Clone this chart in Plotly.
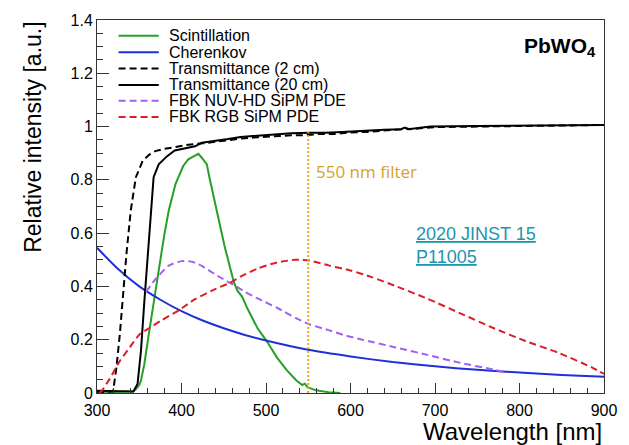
import plotly.graph_objects as go

# ---------------- data ----------------
scint_wl = [300, 320, 340, 343, 346.5, 350, 352, 356, 360, 364, 368, 372, 376, 380, 385,
            393, 402, 408, 414, 418, 420, 424, 430, 433, 439, 445, 451, 457, 462, 466,
            472, 478, 490, 501, 513, 525, 536, 543, 546, 549, 559, 574, 588]
scint = [0.005, 0.004, 0.006, 0.006, 0.016, 0.03, 0.046, 0.108, 0.194, 0.28, 0.354, 0.44,
         0.52, 0.6, 0.686, 0.785, 0.852, 0.877, 0.889, 0.895, 0.898, 0.883, 0.858, 0.81,
         0.723, 0.637, 0.551, 0.477, 0.416, 0.385, 0.36, 0.317, 0.243, 0.194, 0.133, 0.084,
         0.047, 0.03, 0.035, 0.022, 0.01, 0.003, 0.0]

cher_wl = [300, 325, 350, 375, 400, 425, 450, 475, 500, 550, 600, 650, 700, 750, 800, 850, 900]
cher = [0.545, 0.465, 0.40, 0.35, 0.307, 0.272, 0.243, 0.218, 0.197, 0.162, 0.137, 0.116,
        0.100, 0.087, 0.077, 0.068, 0.061]

t2_wl = [300, 310, 319, 323, 327, 331, 335, 340, 346, 354, 362, 369, 380, 393, 408, 425,
         450, 470, 490, 513, 530, 550, 560, 580, 600, 620, 640, 660, 664, 670, 700, 750,
         800, 850, 900]
t2 = [0.005, 0.004, 0.006, 0.096, 0.22, 0.38, 0.527, 0.686, 0.81, 0.871, 0.895, 0.908,
      0.917, 0.923, 0.932, 0.937, 0.948, 0.955, 0.96, 0.965, 0.967, 0.968, 0.972, 0.972,
      0.978, 0.98, 0.985, 0.99, 0.996, 0.99, 0.998, 1.0, 1.003, 1.004, 1.006]

t20_wl = [300, 320, 343, 348, 352, 356, 360, 364, 367, 373, 383, 392, 400, 416, 424, 440,
          455, 470, 490, 513, 530, 551, 570, 590, 617, 640, 660, 664, 668, 695, 750, 800,
          850, 900]
t20 = [0.008, 0.006, 0.006, 0.034, 0.157, 0.342, 0.527, 0.686, 0.81, 0.858, 0.889, 0.91,
       0.916, 0.926, 0.939, 0.945, 0.953, 0.961, 0.966, 0.973, 0.975, 0.977, 0.977, 0.98,
       0.985, 0.988, 0.99, 0.996, 0.99, 1.0, 1.002, 1.003, 1.005, 1.006]

nuv_wl = [358, 370, 385, 400, 410, 416, 424, 435, 449, 462, 475, 490, 513, 536, 552, 575,
          595, 614, 652, 691, 730, 769, 784]
nuv = [0.38, 0.43, 0.478, 0.495, 0.494, 0.489, 0.477, 0.455, 0.428, 0.405, 0.38, 0.355,
       0.32, 0.28, 0.257, 0.235, 0.215, 0.2, 0.172, 0.143, 0.113, 0.088, 0.077]

rgb_wl = [303, 306, 315, 327, 339, 350, 362, 377, 397, 416, 440, 457, 470, 490, 513, 535,
          552, 575, 600, 625, 652, 691, 730, 769, 807, 846, 885, 900]
rgb = [0.0, 0.01, 0.053, 0.12, 0.172, 0.219, 0.244, 0.274, 0.311, 0.352, 0.39, 0.413,
       0.437, 0.467, 0.49, 0.5, 0.497, 0.478, 0.46, 0.435, 0.403, 0.354, 0.299, 0.244,
       0.195, 0.151, 0.097, 0.072]

filter_wl = [550, 550]
filter_y = [0.0, 0.98]

series_names = ["Scintillation", "Cherenkov", "Transmittance (2 cm)", "Transmittance (20 cm)",
                "FBK NUV-HD SiPM PDE", "FBK RGB SiPM PDE"]
x_ticks = [300, 400, 500, 600, 700, 800, 900]
y_ticks = [0, 0.2, 0.4, 0.6, 0.8, 1.0, 1.2, 1.4]

# ---------------- styles ----------------
FONT = "Liberation Sans, Arial, sans-serif"
GREEN = "#26a026"
BLUE = "#1f30d6"
PURPLE = "#a260f2"
RED = "#dc1e28"
BLACK = "#000000"
GOLD = "#e0a92a"
DASH = "7px,4px"

styles = [
    dict(color=GREEN, width=2, dash="solid"),
    dict(color=BLUE, width=2, dash="solid"),
    dict(color=BLACK, width=2, dash=DASH),
    dict(color=BLACK, width=2, dash="solid"),
    dict(color=PURPLE, width=2, dash=DASH),
    dict(color=RED, width=2, dash=DASH),
]
xs = [scint_wl, cher_wl, t2_wl, t20_wl, nuv_wl, rgb_wl]
ys = [scint, cher, t2, t20, nuv, rgb]
shapes_line = ["linear", "spline", "linear", "linear", "spline", "spline"]

fig = go.Figure()
for name, x, y, st, sh in zip(series_names, xs, ys, styles, shapes_line):
    fig.add_trace(go.Scatter(x=x, y=y, mode="lines", name=name, showlegend=False,
                             line=dict(color=st["color"], width=st["width"], dash=st["dash"],
                                       shape=sh, smoothing=0.6)))

fig.add_trace(go.Scatter(x=filter_wl, y=filter_y, mode="lines", name="550 nm filter",
                         showlegend=False, line=dict(color=GOLD, width=2, dash="2px,2px")))

# ---------------- manual legend ----------------
L, T = 97, 14
W, H = 517, 379


def px_x(p):
    return (p - L) / W


def px_y(p):
    return (T + H - p) / H


row_px = [30, 46.7, 63.3, 80, 96, 112.5]
shapes = []
annotations = []
for name, st, rp in zip(series_names, styles, row_px):
    shapes.append(dict(type="line", xref="paper", yref="paper",
                       x0=px_x(119), x1=px_x(160), y0=px_y(rp), y1=px_y(rp),
                       line=dict(color=st["color"], width=2, dash=st["dash"])))
    annotations.append(dict(xref="paper", yref="paper", x=px_x(168), y=px_y(rp),
                            xanchor="left", yanchor="middle", text=name, showarrow=False,
                            font=dict(family=FONT, size=16, color="#000")))

annotations += [
    dict(xref="paper", yref="paper", x=px_x(608), y=px_y(41), xanchor="right",
         yanchor="middle", text="<b>PbWO<sub>4</sub></b>", showarrow=False,
         font=dict(family=FONT, size=21, color="#000")),
    dict(xref="paper", yref="paper", x=px_x(318), y=px_y(168), xanchor="left",
         yanchor="middle", text="550 nm filter", showarrow=False,
         font=dict(family="Open Sans, sans-serif", size=17, color="#d6a326")),
    dict(xref="paper", yref="paper", x=px_x(420), y=px_y(231), xanchor="left",
         yanchor="middle", text="<u>2020 JINST 15</u>", showarrow=False,
         font=dict(family=FONT, size=18, color="#1b96b0")),
    dict(xref="paper", yref="paper", x=px_x(420), y=px_y(255), xanchor="left",
         yanchor="middle", text="<u>P11005</u>", showarrow=False,
         font=dict(family=FONT, size=18, color="#1b96b0")),
    dict(xref="paper", yref="paper", x=1.0, y=px_y(432), xanchor="right",
         yanchor="middle", text="Wavelength [nm]", showarrow=False,
         font=dict(family=FONT, size=24, color="#000")),
    dict(xref="paper", yref="paper", x=px_x(31), y=1.0, xanchor="center",
         yanchor="top", text="Relative intensity [a.u.]", textangle=-90, showarrow=False,
         font=dict(family=FONT, size=23, color="#000")),
]

fig.update_layout(
    width=629, height=445,
    margin=dict(l=L, r=629 - L - W, t=T, b=445 - T - H, pad=0),
    paper_bgcolor="white", plot_bgcolor="white",
    showlegend=False,
    shapes=shapes, annotations=annotations,
    font=dict(family=FONT, size=16, color="#000"),
)
fig.update_xaxes(range=[300, 900], tickvals=x_ticks, ticks="inside", ticklen=10,
                 tickwidth=1, tickcolor="#333", showline=True, linecolor="#333",
                 linewidth=1, mirror=True, showgrid=False, zeroline=False,
                 ticklabelstandoff=3,
                 tickfont=dict(family=FONT, size=16, color="#000"),
                 minor=dict(dtick=20, tick0=300, ticks="inside", ticklen=5,
                            tickcolor="#333", showgrid=False))
fig.update_yaxes(range=[0, 1.4], tickvals=y_ticks, ticks="inside", ticklen=12,
                 tickwidth=1, tickcolor="#333", showline=True, linecolor="#333",
                 linewidth=1, mirror=True, showgrid=False, zeroline=False,
                 tickfont=dict(family=FONT, size=16, color="#000"),
                 minor=dict(dtick=0.05, tick0=0, ticks="inside", ticklen=6,
                            tickcolor="#333", showgrid=False))

fig.write_html("out.html",
               config={"displayModeBar": False},
               post_script="document.body.style.margin='0px';"
                           "document.body.style.overflow='hidden';")
